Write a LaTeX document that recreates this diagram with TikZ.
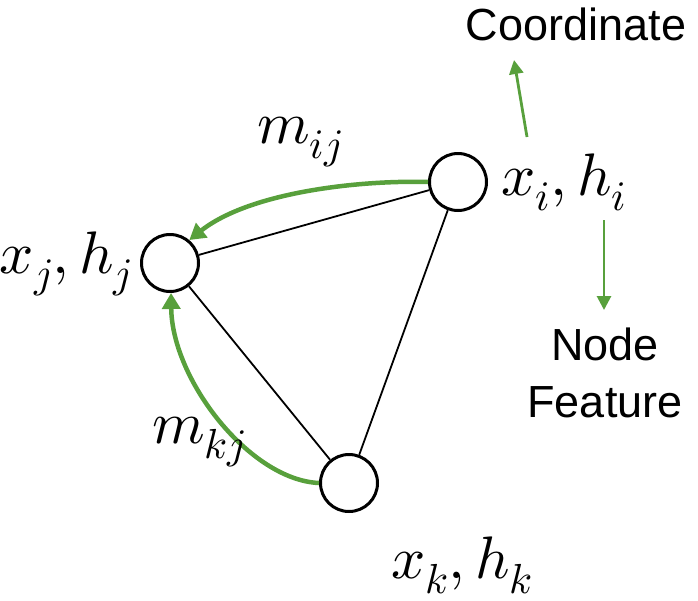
\documentclass[tikz,border=0pt]{standalone}
\usepackage{fontspec}
\usepackage{unicode-math}
\setmathfont{Latin Modern Math}
\setsansfont{Liberation Sans}
\usetikzlibrary{arrows.meta}
\definecolor{msggreen}{RGB}{88,160,60}
\begin{document}
\begin{tikzpicture}[x=1pt,y=-1pt,
  vertex/.style={circle,draw=black,line width=3pt,minimum size=57pt,inner sep=0pt,fill=white},
  edge/.style={draw=black,line width=1.8pt},
  msg/.style={draw=msggreen,line width=4.5pt,-{Triangle[length=16pt,width=18pt]}},
  pointer/.style={draw=msggreen,line width=2.8pt,-{Triangle[length=14pt,width=14pt]}},
  mathlbl/.style={inner sep=0pt,font=\fontsize{60}{64}\selectfont},
  word/.style={inner sep=0pt,align=center,font=\sffamily\fontsize{45}{57}\selectfont}]
\useasboundingbox (0,0) rectangle (698,600);

% graph vertices
\node[vertex] (i) at (458,182) {};
\node[vertex] (j) at (170,263) {};
\node[vertex] (k) at (349,483) {};

% edges
\draw[edge] (i) -- (j);
\draw[edge] (i) -- (k);
\draw[edge] (j) -- (k);

% messages
\draw[msg] (i.west) .. controls (360,180) and (250,192) .. (j.50);
\draw[msg] (k.west) .. controls (250,480) and (172,380) .. (j.-88);

% labels
\node[mathlbl] (li) at (564,182) {$x_i,h_i$};
\node[mathlbl] (lj) at (66,264) {$x_j,h_j$};
\node[mathlbl] (lk) at (462,565) {$x_k,h_k$};
\node[mathlbl] (mij) at (300,142) {$m_{ij}$};
\node[mathlbl] (mkj) at (199,442) {$m_{kj}$};

% coordinate / feature annotations
\node[word] (coord) at (576,24) {Coordinate};
\node[word] (feat) at (605,373) {Node\\Feature};
\coordinate (ctail) at (527,137);
\coordinate (chead) at (514,60);
\coordinate (ftail) at (604,220);
\coordinate (fhead) at (604,310);
\draw[pointer] (ctail) -- (chead);
\draw[pointer] (ftail) -- (fhead);
\end{tikzpicture}
\end{document}
